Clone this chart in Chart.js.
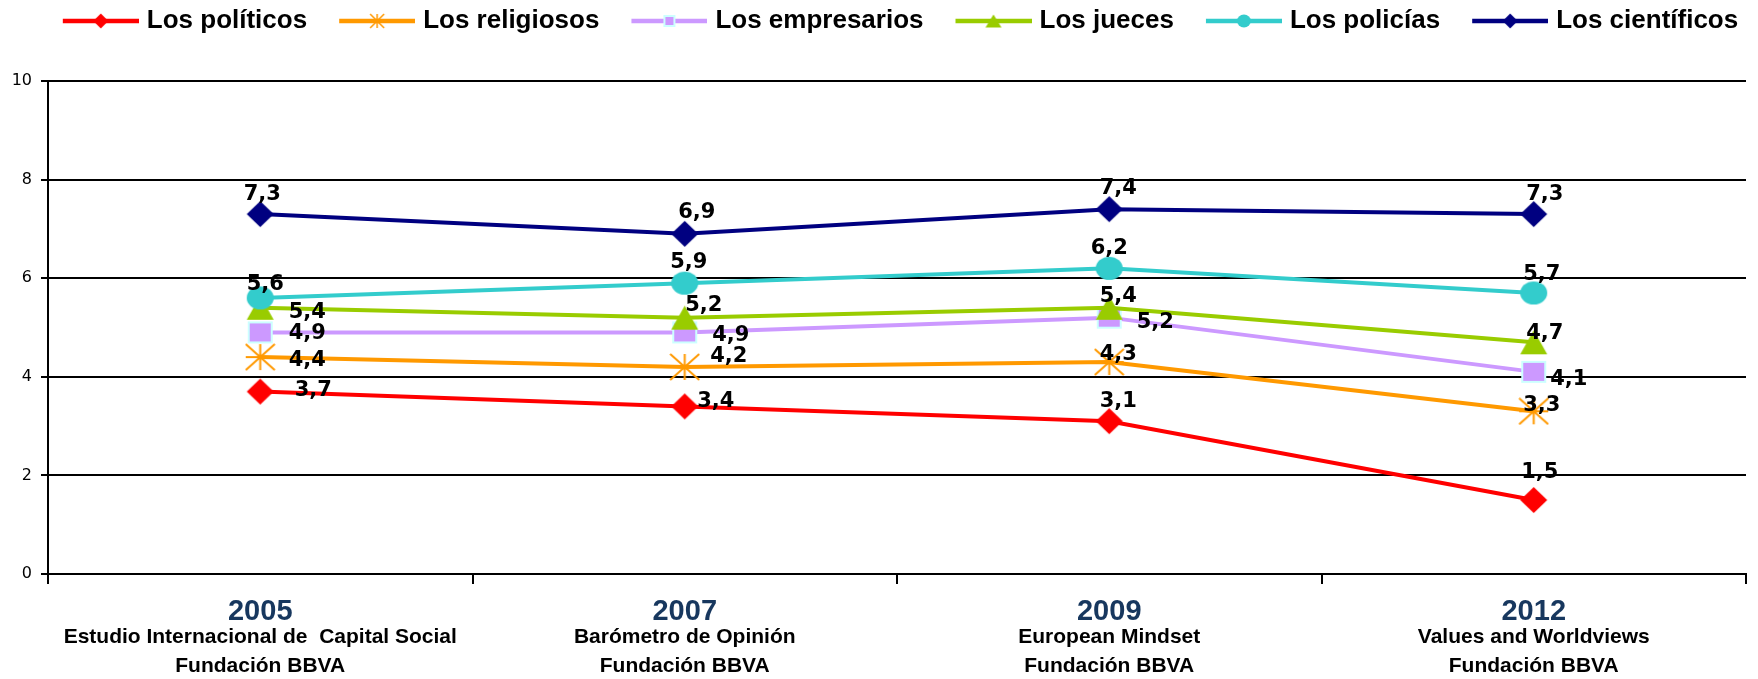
<!DOCTYPE html>
<html lang="es">
<head>
<meta charset="UTF-8" />
<title>Confianza en grupos sociales</title>
<script src="https://cdn.jsdelivr.net/npm/chart.js"></script>
<style>
  html, body { margin: 0; padding: 0; background: #fff; }
  .wrap { width: 1758px; height: 679px; }
</style>
</head>
<body>
<div class="wrap"><canvas id="grafico"></canvas></div>
<script>
// datos
const anios = ['2005', '2007', '2009', '2012'];
const estudios = [
  ['Estudio Internacional de  Capital Social', 'Fundación BBVA'],
  ['Barómetro de Opinión', 'Fundación BBVA'],
  ['European Mindset', 'Fundación BBVA'],
  ['Values and Worldviews', 'Fundación BBVA']
];
const series = ['Los políticos', 'Los religiosos', 'Los empresarios', 'Los jueces', 'Los policías', 'Los científicos'];
const politicos = [3.7, 3.4, 3.1, 1.5];
const religiosos = [4.4, 4.2, 4.3, 3.3];
const empresarios = [4.9, 4.9, 5.2, 4.1];
const jueces = [5.4, 5.2, 5.4, 4.7];
const policias = [5.6, 5.9, 6.2, 5.7];
const cientificos = [7.3, 6.9, 7.4, 7.3];
const valores = [politicos, religiosos, empresarios, jueces, policias, cientificos];

// estilo
const colores = ['#FF0000', '#FF9900', '#CC99FF', '#99CC00', '#33CCCC', '#000080'];
const formas = ['rombo', 'estrella', 'cuadrado', 'triangulo', 'elipse', 'rombo'];
const tamPunto = [[27, 26], [29, 26], [25, 22], [27, 24], [27, 23], [27, 26]];
const tamLeyenda = [[15, 15], [14, 14], [12, 12], [16, 13], [14, 13], [15, 15]];
// posicion de cada etiqueta respecto a su punto (px)
const desplaz = [
  [[53, -1], [31, -5], [9, -20], [6, -28]],
  [[47, 3], [44, -10], [9, -7], [8, -6]],
  [[47, 1], [46, 3], [46, 5], [35, 8]],
  [[47, 5], [19, -12], [9, -11], [11, -9]],
  [[5, -13], [4, -21], [0, -20], [8, -18]],
  [[2, -20], [12, -21], [9, -21], [11, -20]]
];

const fuente = "'Liberation Sans', Arial, sans-serif";
const fuenteV = "'DejaVu Sans', Verdana, sans-serif";

function lienzo(w, h, pintar) {
  const c = document.createElement('canvas');
  c.width = w; c.height = h;
  pintar(c.getContext('2d'));
  return c;
}

function forma(g, tipo, x, y, w, h, color) {
  g.beginPath();
  if (tipo === 'rombo') {
    g.moveTo(x, y - h / 2); g.lineTo(x + w / 2, y); g.lineTo(x, y + h / 2); g.lineTo(x - w / 2, y);
    g.closePath(); g.fillStyle = color; g.fill();
  } else if (tipo === 'estrella') {
    g.moveTo(x, y - h / 2); g.lineTo(x, y + h / 2);
    g.moveTo(x - w / 2, y); g.lineTo(x + w / 2, y);
    g.moveTo(x - w / 2, y - h / 2); g.lineTo(x + w / 2, y + h / 2);
    g.moveTo(x - w / 2, y + h / 2); g.lineTo(x + w / 2, y - h / 2);
    g.strokeStyle = color; g.lineWidth = w > 20 ? 2 : 1.5; g.stroke();
  } else if (tipo === 'cuadrado') {
    g.rect(x - w / 2 + 1, y - h / 2 + 1, w - 2, h - 2);
    g.fillStyle = color; g.fill();
    g.strokeStyle = '#CCFFFF'; g.lineWidth = 2; g.stroke();
  } else if (tipo === 'triangulo') {
    g.moveTo(x, y - h / 2); g.lineTo(x + w / 2, y + h / 2); g.lineTo(x - w / 2, y + h / 2);
    g.closePath(); g.fillStyle = color; g.fill();
  } else if (tipo === 'elipse') {
    g.ellipse(x, y, w / 2, h / 2, 0, 0, Math.PI * 2);
    g.fillStyle = color; g.fill();
  }
}

// marcadores del grafico
const marcadores = series.map((s, i) => {
  const [w, h] = tamPunto[i];
  return lienzo(w + 2, h + 2, g => forma(g, formas[i], (w + 2) / 2, (h + 2) / 2, w, h, colores[i]));
});

// iconos de la leyenda: linea + marcador (lienzo algo mas ancho que la caja)
const iconos = series.map((s, i) => lienzo(124, 24, g => {
  g.beginPath(); g.moveTo(48, 12); g.lineTo(124, 12);
  g.strokeStyle = colores[i]; g.lineWidth = 4.5; g.stroke();
  forma(g, formas[i], 86, 12, tamLeyenda[i][0], tamLeyenda[i][1], colores[i]);
}));

const etiquetas = {
  id: 'etiquetas',
  afterDatasetsDraw(chart) {
    const ctx = chart.ctx;
    ctx.save();
    ctx.font = 'bold 21px ' + fuenteV;
    ctx.fillStyle = '#000';
    ctx.textAlign = 'center';
    ctx.textBaseline = 'middle';
    chart.data.datasets.forEach((ds, i) => {
      chart.getDatasetMeta(i).data.forEach((pt, j) => {
        const [dx, dy] = desplaz[i][j];
        ctx.fillText(ds.data[j].toFixed(1).replace('.', ','), pt.x + dx, pt.y + dy);
      });
    });
    ctx.restore();
  }
};

new Chart(document.getElementById('grafico'), {
  type: 'line',
  data: {
    labels: anios,
    datasets: series.map((s, i) => ({
      label: s,
      data: valores[i],
      xAxisID: 'x',
      yAxisID: 'y',
      order: series.length - i,
      borderColor: colores[i],
      backgroundColor: colores[i],
      borderWidth: 4,
      tension: 0,
      pointStyle: marcadores[i],
      pointRadius: 12,
      pointBorderWidth: 0
    }))
  },
  options: {
    responsive: true,
    maintainAspectRatio: false,
    animation: false,
    events: [],
    layout: { padding: 0 },
    plugins: {
      tooltip: { enabled: false },
      legend: {
        position: 'top',
        // titulo vacio: solo aporta el margen superior de la leyenda
        title: { display: true, text: ' ', padding: 0, font: { size: 19, lineHeight: 1 } },
        labels: {
          usePointStyle: true,
          pointStyleWidth: 114,
          padding: -11,
          color: '#000',
          font: { family: fuente, size: 26, weight: 'bold' },
          generateLabels: chart => chart.data.datasets.map((ds, i) => ({
            text: ds.label,
            fillStyle: colores[i],
            strokeStyle: colores[i],
            lineWidth: 0,
            pointStyle: iconos[i],
            hidden: false,
            datasetIndex: i,
            fontColor: '#000'
          }))
        }
      }
    },
    scales: {
      xTop: {
        type: 'category',
        position: 'top',
        labels: anios,
        grid: { display: false, drawTicks: false },
        border: { display: false },
        ticks: { display: false },
        afterFit: s => { s.height = 37; }
      },
      x: {
        type: 'category',
        position: 'bottom',
        offset: true,
        grid: { offset: true, drawOnChartArea: false, drawTicks: true, tickLength: 10, color: '#000', lineWidth: 2 },
        border: { display: true, color: '#000', width: 2 },
        ticks: {
          color: '#17375E',
          padding: 13,
          maxRotation: 0,
          font: { family: fuente, size: 29, weight: 'bold', lineHeight: 1 }
        },
        afterFit: s => { s.height = 47; }
      },
      x2: {
        type: 'category',
        position: 'bottom',
        offset: true,
        labels: estudios,
        grid: { display: false, drawTicks: false },
        border: { display: false },
        ticks: {
          color: '#000',
          padding: 2,
          maxRotation: 0,
          autoSkip: false,
          font: { family: fuente, size: 21, weight: 'bold', lineHeight: 1.38 }
        },
        afterFit: s => { s.height = 58; }
      },
      y: {
        min: 0,
        max: 10,
        grid: { color: '#000', lineWidth: 2, tickLength: 7 },
        border: { display: true, color: '#000', width: 2 },
        ticks: {
          stepSize: 2,
          color: '#000',
          padding: 9,
          font: { family: fuenteV, size: 16 }
        },
        afterFit: s => { s.width = 48; }
      }
    }
  },
  plugins: [etiquetas]
});
</script>
</body>
</html>
